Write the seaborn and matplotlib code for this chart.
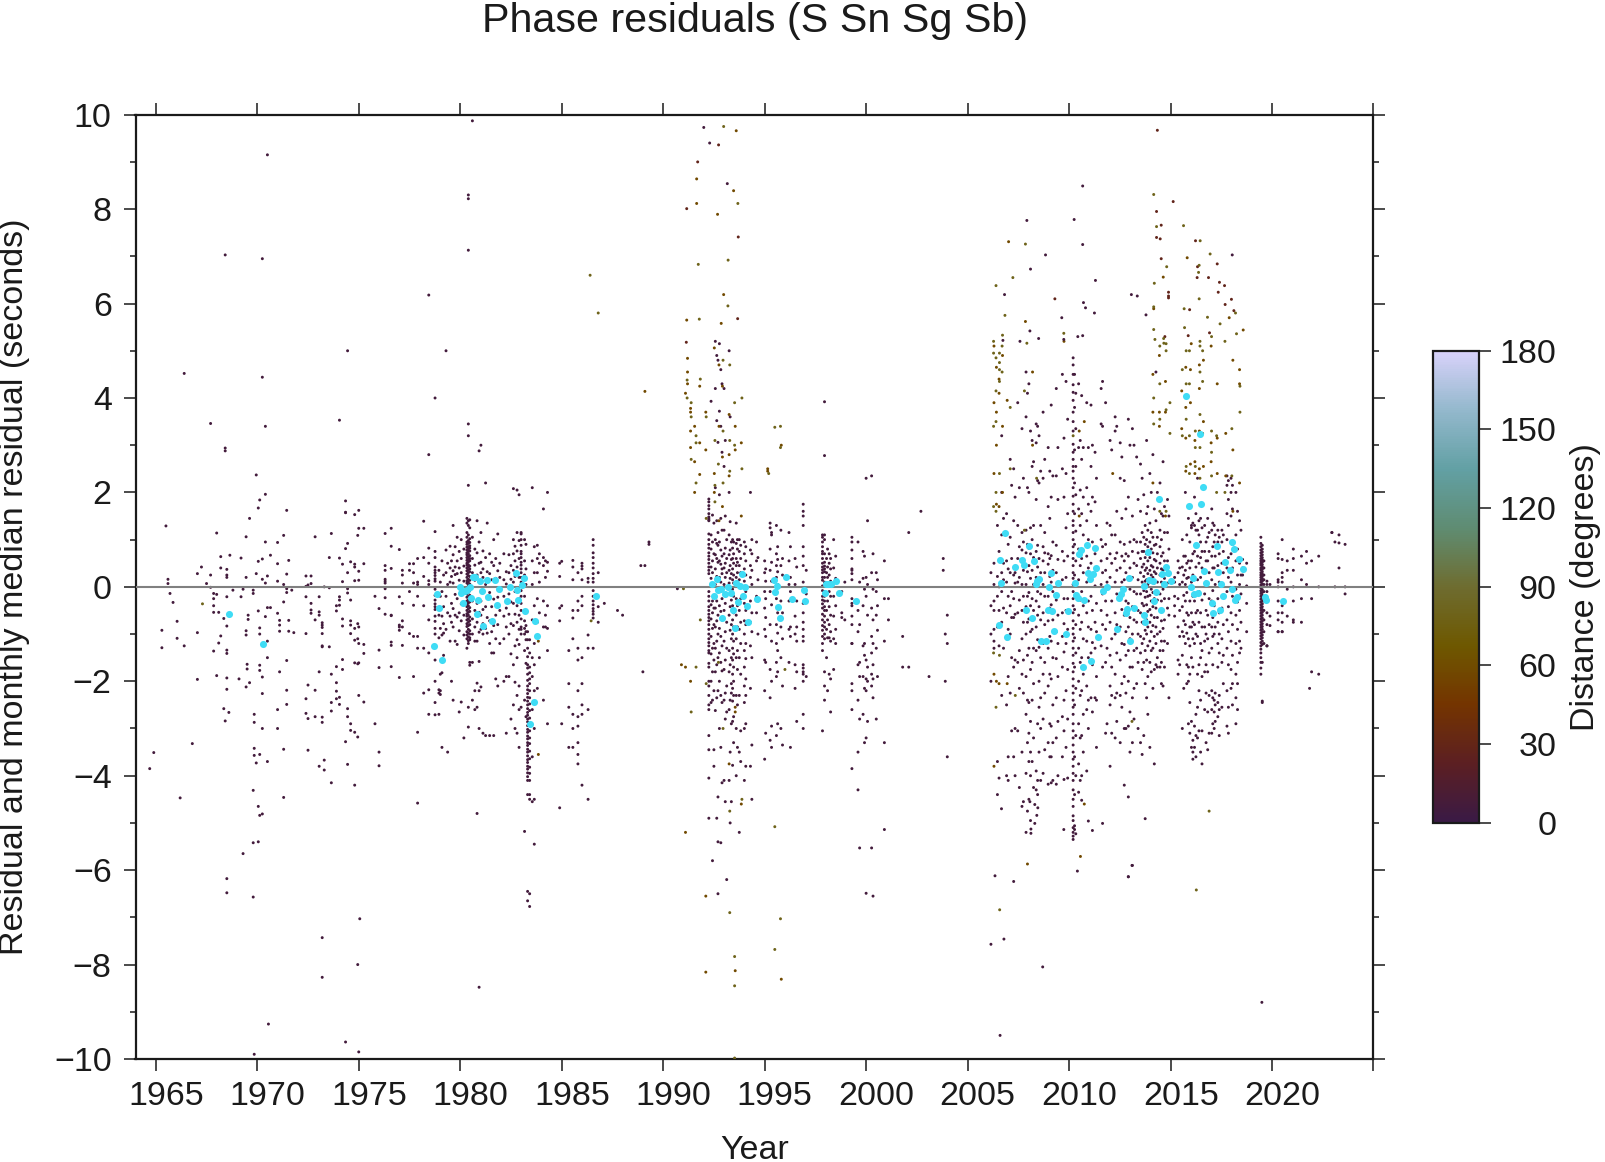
import pandas as pd
import seaborn as sns
import matplotlib.pyplot as plt
from matplotlib.colors import LinearSegmentedColormap, Normalize
from matplotlib.cm import ScalarMappable

# colours
bar_colors = ['#3a1a45', '#5c1f22', '#743400', '#6e5800', '#6e6c30', '#5f8c72', '#62a0a4', '#93b8cc', '#d8d2fa']

# residuals grouped by year: (year, [residuals])
early_rows = [
(1964.7,[-3.85]),(1964.9,[-3.51]),(1965.3,[-.92,-1.29]),(1965.5,[1.29]),(1965.6,[.16,.07]),(1965.7,[-.14]),(1965.85,[-.33]),
(1966.05,[-.73,-1.09]),(1966.2,[-4.47]),(1966.4,[4.52,-1.25]),(1966.8,[-3.32]),(1967.05,[-1.96,.28,-.97]),(1967.25,[.42]),
(1967.5,[.07]),(1967.7,[.25,3.46,-.01]),(1967.85,[-.14,-.25,-.4,-.54,-1.36]),(1968.0,[1.14,-.16,-1.88]),(1968.1,[-.54,-1.19]),
(1968.2,[-1.04,.64,.4]),(1968.35,[-.67,-2.58]),(1968.42,[2.94,-2.84,2.88,7.03]),(1968.5,[.37,.25,.2,-.21,-.83,-1.34,-1.41,-1.93,-2.17,-6.18,-6.48]),
(1968.6,[-2.66]),(1968.65,[.67]),(1968.8,[-.07]),(1969.1,[-1.95]),(1969.2,[.61,-.21]),(1969.3,[-.05,-5.65]),
(1969.45,[1.06,.2,-.93,-1.02,-2.12]),(1969.5,[-1.74,-1.64]),(1969.55,[-.6,-.69]),(1969.62,[1.45,-2.03]),(1969.8,[-.14,-.07,-4.31,-5.42,-6.57]),
(1969.85,[-9.9,-2.7,-2.87,-3.42,-3.57]),(1969.95,[2.37,.28,-3.73]),(1970.05,[1.67,.54,-.51,-4.65,-5.4]),(1970.12,[-3.55,-1.66,-1.77,1.84,-.87,-1.0,-4.84]),
(1970.25,[4.44,.59,.16,-1.91,-2.26,-3.0,-4.81,6.95]),(1970.4,[3.4,1.96,.95,.08,-.63]),(1970.5,[9.15,-3.7,-.44,.23,-1.15,-1.5]),(1970.55,[-9.26]),(1970.65,[.67,-.44]),(1971.0,[-.56,.94,-2.6,-3.0,.12,.49]),
(1971.1,[-.71,-.81,-.94,-1.8]),(1971.3,[.05,-.32,1.09,-3.44,-4.46]),(1971.45,[.27,-.04,-.12,1.62,-1.56,-2.19,-2.49]),(1971.55,[.56,-.71,-.94]),(1971.7,[-.07]),(1971.8,[-.97]),
(1972.4,[.01,-.21,.23,-.99,-2.37,-2.68]),(1972.5,[.04,-2.79,-3.46,-2.08]),(1972.65,[.07,-.35,-.56,.23,-.49]),(1972.85,[1.06,-.7,-2.19,-2.75]),
(1973.05,[-.21,-3.8,-1.8,-.6,-.53]),(1973.2,[-1.27,-.76,-2.76,-1.25,-.86,-.99,-.81,-2.87,-7.43,-8.27]),(1973.3,[-3.67,-3.88,.0]),(1973.55,[-.02,.62,-1.27]),
(1973.65,[-2.45,-2.63,-1.85,-4.15,1.13]),(1973.9,[-2.03,-2.21,-1.69,-2.37,-.4,-.51]),(1974.05,[-.21,-.28,-2.34,-2.49,3.53,.61,-.39]),(1974.2,[.48,-.68,-.83,-1.54,-1.75,.11]),
(1974.35,[1.82,1.57,-3.28,.81,1.58,-9.64]),(1974.45,[.92,-.04,-.13,-2.58,-2.75,-3.76,5.0,.3]),(1974.6,[-.72,-.81,.53,-.28,-.99,-2.9,-3.04]),(1974.8,[.48,-4.2,1.53,-3.08,-.88,-1.13,.42,.13,-1.61]),
(1974.95,[-1.63,-1.1,-3.18,1.09,-.78,-8.0]),(1975.0,[1.24,-2.3,1.62,.33,.14,-.85,-1.2,-1.61,-9.85]),(1975.25,[-2.44,1.24,.49,-1.22,-1.41]),(1975.8,[-2.9,-.2]),(1975.05,[-7.03]),
(1976.0,[-.46,-1.34,-3.5,-3.79,-1.71]),(1976.3,[-.23,-.04,.12,.16,.08,-.58,1.13,.45,.35]),(1976.6,[.86,-.6,-1.17,-1.24,1.24,-1.69,.39,-.61]),(1977.0,[.79,-.81,-.21,-.85,-.92,-1.92]),
(1977.15,[.35,.25,-1.24,-.72,.08,-.35,-.85]),(1977.5,[.49,.35,-.1,-.99]),
(1977.7,[.49,.3,-.39,-1.05,-1.9,.08]),(1977.9,[.6,.1,-.2,.05,-1.05,-1.3,-3.08,-4.58]),(1978.2,[.62,.22,-.4,-1.3,-2.25,1.39]),
(1978.45,[.13,.82,.5,.05,-.7,-1.4,-2.18,-2.7,2.8,6.18]),
(1978.76,[1.17,.75,.62,.42,.35,.3,.24,.17,.12,-.05,-.18,-.28,-.36,-.42,-.48,-.62,-.73,-.88,-1.0,-2.45,-2.71,-2.0,-1.55,4.0]),
(1978.95,[.35,-.6,-1.08,-2.18,-2.25,-2.7]),(1979.02,[.1,-.2,-.88,-1.85,-2.2,-2.28]),(1979.1,[.55,-.1,-.62,-1.02,-1.82,-3.4]),(1979.18,[.25,-.42,-.78,-1.45,-.98]),
(1979.3,[.78,.3,-.2,-.9,5.0]),(1979.38,[.5,.05,-.55,-3.5]),(1979.5,[.86,.4,.1,-.62,-1.15]),(1979.57,[.55,.22,-.35,-.75,-2.0]),(1979.65,[1.3,.68,.34,.08,-.46,-.85,-2.4]),(1979.75,[.85,.42,.26,-.16,-.6,-1.15]),
(1979.85,[1.05,.55,.28,-.25,-.64,-1.22]),(1979.95,[.75,.4,.14,-.55,-.93,-2.65]),
(1980.05,[1.0,.6,.3,-.36,-.72,-2.44]),(1980.18,[.8,.44,.12,-.6,-1.02,-3.2]),
(1980.33,[1.45,1.35,1.15,1.05,.95,.9,.84,.78,.72,.68,.62,.56,.5,.46,.4,.34,.27,.2,.13,.08,-.03,-.1,-.15,-.22,-.3,-.36,-.42,-.5,-.57,-.62,-.7,-.78,-.84,-.95,-1.02,-1.1,-1.3]),
(1980.4,[3.45,3.2,2.15,1.4,1.3,1.1,.98,.92,.85,.8,.75,.7,.64,.58,.53,.47,.42,.36,.3,.24,.16,.1,.04,-.05,-.12,-.2,-.28,-.34,-.4,-.47,-.54,-.6,-.68,-.75,-.82,-.9,-.98,-1.06,-1.14,-1.2,8.3,8.22,7.13,-2.55,-2.97]),
(1980.47,[1.42,1.25,1.02,.94,.87,.82,.76,.66,.6,.55,.44,.38,.32,.22,.14,.06,-.08,-.18,-.26,-.32,-.44,-.52,-.64,-.72,-.8,-.93,-1.0,-1.08,-1.12,-1.6,-1.66]),
(1980.6,[1.05,.6,.3,-.3,-.68,-1.0,-1.6,-2.4,9.87]),(1980.72,[.8,.46,.14,-.5,-.85,-1.15,-2.2,-2.6]),
(1980.83,[1.4,.72,.25,-.35,-.75,-1.15,-2.04,-2.55,-4.8]),(1980.93,[.95,.5,.1,-.54,-.96,-1.58,-2.2,-3.0,2.88,-8.48]),(1981.02,[1.15,.52,.3,-.3,-.6,-.9,-2.12,3.0]),(1981.12,[.76,.38,.2,-.48,-.78,-1.0,-3.1]),
(1981.25,[2.2,.62,.05,-.42,-.88,-3.15]),(1981.33,[1.35,.32,-.2,-.65,-.98]),(1981.45,[.7,.28,-.12,-.72,-1.2,-3.15]),(1981.55,[.52,.15,-.42,-.95,-1.4]),(1981.65,[1.0,.45,-.26,-.82,-1.4,-3.15]),(1981.75,[.6,.18,-.6,-1.1,-1.95]),
(1981.85,[1.12,.34,-.22,-.8,-2.1]),(1981.95,[.5,.2,-.5,-1.2]),(1982.15,[.7,.15,-.2,-.62,-1.1,-2.0]),(1982.27,[.32,.06,-.45,-.85,-1.9,-3.1]),(1982.4,[.68,.3,-.15,-.58,-1.0,-1.9]),(1982.5,[.45,.16,-.32,-.78,-1.42,-2.8]),
(1982.62,[1.0,.7,.35,.1,-.35,-.82,-1.65,-2.5,2.08]),(1982.7,[.86,.55,.22,-.1,-.58,-1.25,-2.02,-3.0]),(1982.8,[1.15,.76,.42,-.05,-.4,-.75,-1.12,-1.5,-2.3,-3.1,2.05]),(1982.9,[.98,.6,.2,-.25,-.6,-.9,-1.22,-2.1,-2.6,-3.4,1.95]),
(1983.0,[1.15,1.12,1.0,.88,.75,.7,.62,.52,.46,.38,.3,.2,.1,-.08,-.2,-.35,-.5,-.68,-.85,-.9,-1.0,-2.55]),(1983.17,[1.0,.55,.25,-.2,-.72,-.88,-1.0,-1.35,-2.4,-5.18]),(1983.24,[.9,.38,.05,-.5,-.82,-.95,-1.12,-1.62,-2.75]),
(1983.32,[-.95,-1.12,-1.3,-1.48,-1.65,-1.72,-1.85,-1.98,-2.1,-2.18,-2.26,-2.34,-2.42,-2.5,-2.58,-2.66,-2.72,-2.8,-2.86,-2.94,-3.02,-3.08,-3.16,-3.22,-3.3,-3.36,-3.44,-3.5,-3.58,-3.66,-3.72,-3.8,-3.86,-3.94,-4.02,-4.1,-4.4,-6.45,-6.65]),
(1983.42,[-1.12,-1.4,-1.7,-1.82,-1.95,-2.05,-2.2,-2.35,-2.48,-2.62,-2.78,-2.92,-3.05,-3.2,-3.32,-3.48,-3.64,-3.82,-3.95,-4.1,-4.4,-4.5,-6.5,-6.77]),
(1983.55,[2.1,.55,.05,-.7,-1.5,-1.9,-2.6,-3.6,-4.55]),(1983.65,[.85,.3,-.4,-1.2,-1.65,-2.2,-3.0,-4.5,-5.45]),(1983.8,[.88,.6,.3,-.25,-.75,-2.15]),(1983.9,[.7,.5,.1,-.55,-1.5]),(1984.1,[1.65,.62,.45,-.3,-.85,-2.4]),(1984.2,[.55,.2,-.6,-.85]),
(1984.3,[2.0,.52,.33,-.4,-.88,-1.35,-2.9]),(1984.9,[.5,.22,-.45,-.72,-4.68]),(1985.0,[.54,-2.9,-.4]),(1985.35,[-2.55,-2.05,-1.35,-3.4]),(1985.55,[.56,.42,.15,-.5,-.66,-1.1,-2.7,-3.0,-3.4]),
(1985.8,[.3,-.3,-.5,-1.3,-1.55,-2.2,-2.75,-2.95,-3.3,-3.55,-3.75]),(1986.0,[.5,.44,.15,.38,-.2,-.4,-4.2,-1.5,-2.05,-2.5,-2.7]),(1986.3,[.18,.1,-2.6,-4.5,-1.3,-1.02]),
(1986.55,[1.0,.88,.72,.62,.5,.4,.28,.18,.1,-.08,-.2,-.3,-.38,-.46,-.52,-.58,-.66,-1.3]),(1986.8,[.3,-.42,-.75]),(1987.1,[-.35]),(1987.75,[-.5]),(1988.0,[-.6]),(1988.9,[.45]),(1989.3,[.9,.95]),(1989.0,[-1.8]),
]

nineties_rows = [
(1989.1,[.45]),(1990.7,[-.04]),
(1992.25,[1.86,1.8,1.72,1.65,1.55,1.48,1.4,1.42,1.45,1.12,1.0,.9,.82,.72,.65,.58,.5,.42,.35,.28,-.1,-.2,-.3,-.42,-.5,-.58,-.65,-.72,-.8,-.9,-1.0,-1.1,-1.18,-1.25,-1.35,-1.4,-1.62,-1.7,-2.0,-2.1,-2.3,-2.5,-2.6,-3.15,-3.45,-4.05,-4.9]),
(1992.36,[3.93,1.1,.8,.42,.18,-.38,-.68,-1.05,-1.42,-2.0,-2.45]),(1992.43,[1.52,.95,.55,.3,-.3,-.55,-.88,-1.3,-1.8,-2.4,-5.8]),(1992.5,[1.35,.7,-.45,-.8,-1.2,-1.55,-2.2,-3.45,-3.8]),
(1992.57,[5.2,4.2,2.1,1.0,.68,.38,.05,-.45,-.85,-1.3,-1.8,-2.62]),(1992.64,[4.9,3.52,1.4,.92,.6,.22,-.3,-.72,-1.15,-1.65,-2.35,-4.9]),(1992.7,[4.8,3.06,1.15,.88,.52,.15,-.6,-1.0,-1.5,-2.2,-4.45,-5.4,-6.5]),
(1992.77,[5.15,3.72,1.95,.95,.55,.2,-.4,-.88,-1.4,-2.0,-3.0]),(1992.84,[4.6,3.4,1.45,.78,.48,.1,-.52,-1.05,-1.6,-2.3,-3.4,-5.42]),(1992.9,[4.3,2.85,1.2,.65,.38,.28,-.25,-.7,-1.25,-1.78,-2.45,-4.15]),
(1993.0,[4.2,2.55,1.2,.7,.4,.05,-.5,-1.15,-1.75,-2.4,-4.1]),(1993.06,[3.1,1.5,.82,.5,.2,-.35,-.95,-1.55,-2.25,-2.8,-4.55]),(1993.13,[1.0,.6,.3,-.75,-1.3,-2.1,-2.65,-6.2]),
(1993.25,[5.0,2.0,1.1,.68,.35,.08,-.6,-1.35,-1.8,-2.6,-4.1]),(1993.3,[3.6,1.38,.78,.45,.18,-.42,-.92,-1.65,-2.4,-3.5,-5.0]),(1993.36,[.95,.58,.28,-.28,-.8,-1.1,-1.5,-2.05,-2.25,-2.9,-4.55]),
(1993.42,[1.0,.82,.6,.38,.15,-.05,-.4,-.7,-1.0,-1.3,-1.55,-1.85,-2.15,-2.42,-2.85,-3.78]),(1993.47,[.95,.7,.5,.25,.08,-.2,-.55,-.85,-1.15,-1.42,-1.7,-2.0,-2.3,-2.75,-3.3]),
(1993.6,[1.35,.92,.6,.45,.2,-.25,-.6,-1.1,-1.5,-2.3,-3.0,-4.0]),(1993.66,[1.0,.8,.52,.3,.1,-.4,-.85,-1.35,-1.75,-2.5,-3.4]),
(1993.75,[1.0,.75,.45,.15,-.5,-.9,-1.5,-2.3,-3.5,-5.2]),(1993.82,[.88,.6,.3,-.25,-.75,-1.2,-1.85,-3.05,-3.7]),
(1994.0,[.95,.7,.38,.12,-.35,-.72,-1.0,-1.35,-1.7,-2.1,-2.45,-3.0,-4.1]),(1994.07,[.85,.55,.25,-.1,-.5,-.8,-1.2,-1.52,-1.95,-2.3,-2.9,-3.8]),
(1994.3,[2.0,.78,.45,.2,-.3,-.75,-1.25,-2.15,-3.8]),(1994.37,[1.0,.7,.35,.05,-.55,-.95,-1.5,-3.35,-4.5]),(1994.6,[.95,.55,-.2,-.55]),(1994.67,[.62,.15,-.3,-1.0]),
(1995.0,[.55,.3,-.1,-.45,-.9,-1.55,-2.2,-3.65]),(1995.05,[.38,.12,-.25,-.65,-1.05,-1.6,-3.1]),(1995.27,[1.35,1.25,.8,.35,-.1,-.8,-1.75,-2.35,-3.25]),(1995.34,[1.1,1.15,.52,.12,-.38,-1.15,-2.0,-2.95,-3.4]),
(1995.58,[1.3,.7,.45,.2,-.25,-.8,-1.2,-1.6,-1.9,-3.15]),(1995.64,[.85,.58,.32,.05,-.55,-.98,-1.35,-1.8,-2.9]),(1995.8,[1.2,.45,-.3,-.85,-1.5,-3.0]),(1995.88,[.6,.25,-.55,-1.1,-2.1,-3.35]),
(1996.2,[1.15,.55,.05,-.3,-.9,-1.6]),(1996.27,[.85,.2,-.1,-.85,-1.05,-3.4]),(1996.5,[.6,.05,-.62,-1.0,-1.65,-2.15]),(1996.58,[.42,-.3,-.85,-1.15,-1.8,-2.85]),
(1996.9,[1.75,1.6,1.5,1.3,.85,.65,.45,.1,-.35,-.55,-.75,-.9,-1.05,-1.15,-1.65,-1.72,-1.8,-1.85,-2.0,-2.7,-3.0]),(1997.05,[.35,-.15,-1.9]),
(1997.85,[1.1,1.05,.95,.85,.75,.7,.6,.5,.42,.36,.3,.2,.14,.02,-.08,-.2,-.28,-.36,-.45,-.58,-.7,-.82,-.92,-1.05,-1.2,-1.35,-3.05]),
(1997.95,[3.92,2.78,1.1,1.0,.7,.52,.44,.38,.32,.2,.1,-.1,-.2,-.3,-.42,-.5,-.62,-.75,-.85,-1.0,-1.1,-1.8,-2.1,-2.4]),(1998.1,[.8,.42,.2,-.3,-.7,-1.08,-2.2]),(1998.05,[.6,.3,-.12,-.5,-.9,-1.5]),
(1998.18,[.7,.5,.25,-.1,-.42,-.8,-1.08,-1.85]),(1998.25,[.6,.38,.12,-.2,-.6,-.95,-1.15,-1.95,-2.65]),(1998.4,[1.0,.4,-.2,-.62,-1.1,-1.75]),(1998.5,[.65,.18,-.4,-.9,-1.2]),(1998.8,[-.55,-.65,-.1]),(1998.95,[.1,-.7]),
(1999.3,[1.05,.95,.78,.6,.38,.35,.28,.15,-.25,-.35,-.4,-.62,-.8,-1.2,-1.2,-2.05,-2.2,-2.6,-3.85]),(1999.6,[.95,-.5,-.95,-1.65,-2.4,-3.5,-4.3]),(1999.68,[.1,-.8,-1.6,-1.9,-2.8,-5.53]),
(1999.85,[.75,.18,-.4,-1.25,-1.9,-2.7]),(1999.92,[.65,-.05,-1.2,-1.45,-2.15,-3.3]),(2000.0,[2.3,.2,-.2,-1.55,-1.95,-2.2,-3.2,-6.49]),(2000.07,[1.4,.05,-.6,-1.7,-2.0,-2.85]),(2000.27,[2.35,.3,-.45,-1.05,-1.4,-1.85,-2.1,-5.53]),(2000.34,[.7,-.05,-.7,-1.2,-1.65,-1.95,-2.35,-6.55]),
(2000.5,[.3,-.1,-.6,-1.3,-2.8]),(2000.56,[.15,-.4,-.92,-1.9]),(2000.9,[.55,-.25,-1.15,-3.3,-5.14]),(2001.1,[-.25,-.7]),(2001.8,[-1.05,-1.7]),(2002.1,[1.15,-1.7]),(2002.7,[1.6]),(2003.1,[-1.9]),(2003.8,[.35,.6]),(2003.9,[-1.0,-2.0]),(2004.0,[-1.2,-3.6,-.6]),
]

late_a_rows = [
(2006.15,[.3,-1.0,-2.0,-.4]),(2006.3,[.05,-.5,-.9,-1.3,.5,-.3,-1.15]),(2006.47,[1.3,.22,-.2,-.85,-3.7,-4.4]),(2006.55,[.75,.0,-.5,-1.25,-4.05]),
(2006.68,[2.0,1.1,.3,-.1,-.75,-2.3,3.2]),(2006.77,[1.45,.5,.15,-.45,-1.3]),(2006.92,[1.55,.55,.1,-.55,-1.1,-2.5,-4.0]),(2007.0,[.9,.38,-.2,-.9,-1.9,-3.6,-4.1]),(2007.1,[2.7,1.05,.3,-.4,-1.0,-2.25]),(2007.17,[2.15,.6,-.1,-.65,-1.5,-3.05]),
(2007.27,[2.5,1.4,.25,-.25,-.65,-1.7,-3.6]),(2007.34,[1.9,.3,.08,-.58,-1.55,-3.0,-4.0]),(2007.47,[3.9,1.3,.6,.1,-.55,-1.6,-3.05]),(2007.55,[2.1,.85,.2,-.28,-1.35,-2.15,-4.25]),(2007.68,[3.35,1.15,.78,.05,-.5,-1.1,-1.85,-3.5,-4.65]),(2007.75,[2.3,.95,.35,-.2,-.75,-1.55,-2.25,-4.55]),
(2007.88,[4.55,3.6,1.2,.72,.05,-.42,-1.0,-1.9,-2.7,-3.95,-5.2]),(2007.95,[4.1,2.1,.9,.32,-.2,-.75,-1.45,-2.4,-3.3,-4.75]),(2008.02,[4.3,2.0,.82,.45,-.12,-.68,-1.3,-2.45,-3.1,-3.7,-4.5]),(2008.1,[3.3,1.25,.7,.18,-.4,-.95,-1.75,-2.85,-3.5,-4.0,-4.95]),
(2008.18,[3.1,2.55,1.0,.35,-.25,-.9,-1.6,-2.4,-3.7]),(2008.25,[2.65,1.3,.62,.05,-.5,-1.3,-2.05,-3.2,-4.25]),(2008.38,[3.45,3.05,1.85,.75,.2,-.3,-.85,-1.35,-3.9,-4.3]),(2008.45,[3.4,2.25,.88,.42,-.1,-.6,-1.12,-2.9,-4.1,-4.4]),
(2008.52,[3.2,2.2,.6,.1,-.42,-1.28,-2.0,-2.55,-3.5]),(2008.6,[2.45,1.3,.3,-.15,-.7,-1.5,-2.35,-3.0,-4.1]),(2008.72,[3.7,2.3,.85,.55,.05,-.55,-1.2,-1.85,-2.8,-3.95]),(2008.8,[2.7,1.15,.72,.3,-.2,-.8,-1.6,-2.25,-3.45]),
(2008.97,[2.95,1.7,.7,.48,-.2,-.72,-1.3,-2.1,-3.3,-4.18]),(2009.05,[2.45,1.45,.6,.22,-.45,-1.05,-1.85,-2.9,-3.6]),(2009.12,[3.85,1.9,.66,.1,-.38,-1.15,-1.95,-2.95,-3.6,-4.15]),(2009.2,[2.35,.95,.35,-.1,-.7,-1.5,-2.5,-3.3,-4.1]),
(2009.37,[4.2,2.35,.88,.3,-.28,-.95,-1.52,-2.35,-3.2,-4.18]),(2009.45,[2.95,1.85,.58,.02,-.6,-1.2,-1.9,-2.85,-4.0]),(2009.67,[4.5,2.5,.75,.15,-.55,-1.05,-1.7,-2.75,-3.6]),(2009.75,[3.15,1.9,.55,-.25,-.78,-1.38,-2.4,-3.05,-4.08]),
(2009.85,[4.35,2.4,1.25,.2,-.5,-1.2,-2.2,-3.4]),(2009.93,[3.55,1.55,.65,-.25,-.9,-1.75,-2.8,-4.05]),
(2010.2,[4.85,4.7,4.5,4.28,4.12,3.95,3.7,3.5,3.3,3.02,2.85,2.7,2.55,2.45,2.3,2.1,1.92,1.75,1.6,1.4,1.3,1.15,1.0,.85,.72,.6,.45,.3,.18,.05,-.1,-.25,-.4,-.55,-.72,-.88,-1.0,-1.15,-1.3,-1.45,-1.62,-1.8,-1.95,-2.1,-2.25,-2.4,-2.55,-2.7,-2.9,-3.05,-3.2,-3.35,-3.5,-3.65,-3.8,-3.95,-4.1,-4.3,-4.5,-4.65,-4.85,-4.95,-5.1,-5.2,-5.28,-5.35]),
(2010.27,[4.5,3.8,2.9,2.2,1.55,.9,.25,-.48,-1.08,-1.7,-2.5,-3.6,-4.4,-5.06,-5.14]),(2010.33,[4.1,3.35,2.55,1.95,1.18,.55,-.15,-.8,-1.4,-2.15,-3.15,-4.0,-5.23]),
(2010.47,[4.3,2.95,1.65,.8,.15,-.6,-1.3,-2.0,-2.9,-3.75,-4.35]),(2010.55,[3.1,2.05,1.3,.45,-.28,-.9,-1.6,-2.3,-3.2,-4.1]),(2010.62,[4.05,2.7,1.55,.6,-.1,-.75,-1.5,-2.2,-3.15,-4.0,-4.52]),(2010.7,[2.95,1.9,1.1,.3,-.4,-1.1,-1.85,-2.7,-3.5]),
(2010.87,[3.9,2.1,1.4,.65,.1,-.55,-1.15,-2.1,-2.6,-3.9]),(2010.95,[2.95,1.75,1.0,.4,-.3,-.85,-1.5,-2.4,-3.0,-4.96]),(2011.08,[3.85,2.55,1.6,.5,-.2,-.9,-1.4,-2.35]),(2011.15,[3.0,1.9,.95,.25,-.5,-1.18,-1.65,-2.65,-5.16]),
(2011.28,[2.85,1.8,.7,.02,-.75,-1.3,-2.35]),(2011.35,[2.3,1.3,.35,-.35,-.95,-1.9,-2.4,-3.4]),(2011.58,[4.2,3.45,1.0,.55,.05,-.5,-1.25]),(2011.65,[4.35,3.4,.85,.3,-.15,-.8,-1.7,-5.01]),(2011.8,[3.9,.9,.35,-.3,-.9,-1.6,-3.1]),(2011.87,[1.35,.6,.1,-.6,-1.3,-2.9]),
(2012.02,[3.1,1.3,.7,.2,-.75,-1.45,-2.1,-2.5,-3.8]),(2012.1,[2.9,1.1,.5,-.3,-1.1,-1.7,-2.3,-3.1]),(2012.27,[3.6,3.3,1.1,.6,.1,-.55,-1.0,-1.85,-2.35,-3.2]),(2012.35,[3.4,1.6,.72,.35,-.15,-.8,-1.4,-2.25,-2.85]),
(2012.52,[3.05,2.3,.95,.4,-.2,-.85,-1.55,-2.3,-3.3]),(2012.6,[2.75,1.45,.65,.1,-.48,-1.2,-2.05,-2.55]),(2012.72,[2.25,.9,.55,.15,-.6,-1.22,-1.9,-3.0,-4.2]),(2012.8,[1.65,.7,.3,-.3,-.95,-1.45,-2.25,-3.0]),
(2012.92,[3.55,1.9,.65,.15,-.35,-.85,-1.35,-2.0,-2.95,-4.45,-6.14]),(2013.0,[3.0,.95,.4,-.05,-.65,-1.1,-1.7,-2.65,-3.5]),(2013.12,[3.35,1.5,.75,.2,-.42,-1.0,-1.7,-2.35,-3.3,-5.9]),(2013.2,[3.0,1.0,.5,-.1,-.7,-1.35,-2.15,-2.8]),(2013.33,[2.75,.95,.45,-.15,-.75,-1.3,-2.05]),(2013.4,[1.85,.72,.15,-.5,-1.0,-1.6,-3.0]),
]

late_b_rows = [
(2013.52,[2.6,1.6,.95,.6,.3,-.15,-.55,-1.05,-1.4,-3.3]),(2013.6,[2.3,1.15,.75,.42,.1,-.35,-.75,-1.2,-1.75,-3.55]),(2013.68,[1.95,1.05,.75,.48,.22,-.08,-.4,-.78,-1.1,-1.6,-3.15]),(2013.75,[1.3,.9,.62,.35,.12,-.22,-.62,-.92,-1.35,-2.05,-4.91]),
(2013.82,[3.1,1.55,1.0,.7,.4,.15,-.1,-.38,-.7,-1.0,-1.55,-2.35]),(2013.88,[1.7,1.2,.85,.55,.28,.05,-.2,-.52,-.85,-1.25,-1.9,-2.7]),(2013.98,[2.4,1.35,.95,.62,.35,.1,-.18,-.48,-.75,-1.15,-1.6,-3.4]),(2014.05,[2.0,1.15,.8,.45,.25,-.05,-.3,-.6,-.95,-1.35,-1.8]),
(2014.13,[2.8,1.05,.72,.42,.2,-.12,-.42,-.82,-1.3,-2.15]),(2014.2,[1.65,.88,.58,.32,.08,-.25,-.65,-1.05,-1.75,-3.75]),(2014.28,[4.55,1.4,.9,.55,.28,-.1,-.45,-.85,-1.2,-1.65]),(2014.35,[2.0,1.05,.7,.4,.1,-.28,-.65,-1.0,-1.5,-1.7]),
(2014.48,[2.2,1.2,.85,.5,.25,-.15,-.5,-.95,-1.35,-1.7]),(2014.55,[1.55,1.0,.65,.38,.1,-.3,-.72,-1.15,-1.6,-2.05]),(2014.63,[2.65,1.5,.72,.35,-.05,-.5,-.88,-1.35,-2.1]),(2014.7,[1.7,1.15,.55,.18,-.25,-.7,-1.15,-1.7]),(2014.85,[1.85,1.15,.55,.08,-.45,-1.2]),(2014.92,[1.5,.8,.25,-.25,-.6,-2.35]),
(2015.2,[.2,.1,-.2,-.4,-.62]),(2015.37,[.55,.3,-.25,-.85,-1.55,-1.85]),(2015.45,[.4,.05,-.5,-1.05,-1.65]),(2015.58,[1.0,.42,.1,-.42,-.95,-1.45,-3.0]),(2015.65,[.65,.25,-.18,-.72,-1.05,-2.15]),(2015.73,[2.0,.65,.35,.05,-.3,-.8,-1.2]),(2015.8,[1.1,.5,.18,-.12,-.55,-.98,-1.65,-2.05]),
(2015.88,[1.45,.55,.2,-.6,-1.1,-1.7,-2.0,-2.9]),(2015.95,[.95,.4,-.3,-.85,-1.25,-1.85,-2.45,-3.1]),(2016.03,[1.3,1.25,.55,.1,-.55,-.85,-1.5,-2.85,-3.4]),(2016.1,[1.35,.7,.25,-.2,-.75,-1.1,-1.7,-3.25,-3.5,-3.65]),
(2016.18,[1.9,1.3,.75,.2,-.3,-.8,-1.2,-2.95,-3.4]),(2016.25,[1.55,1.2,.42,-.15,-.55,-1.0,-2.7,-3.15,-3.6]),(2016.33,[2.3,1.2,.65,.15,-.5,-1.05,-1.85,-2.55,-3.2]),(2016.4,[1.4,1.1,.5,-.1,-.75,-1.65,-2.2,-3.05]),
(2016.48,[1.45,.95,.62,.2,-.55,-1.2,-1.5,-2.4,-3.5]),(2016.55,[1.25,.75,.4,-.28,-.85,-1.35,-1.9,-3.05,-3.75]),(2016.68,[1.3,.75,.35,-.15,-.85,-1.15,-1.8,-2.6]),(2016.75,[.95,.55,.1,-.5,-1.0,-1.65,-2.25,-3.3]),
(2016.83,[1.45,1.05,.55,.08,-.6,-1.1,-1.8,-2.65,-3.45]),(2016.9,[1.15,.75,.3,-.25,-.8,-1.4,-2.3,-3.1]),(2017.03,[1.65,1.2,.65,.15,-.3,-.85,-1.3,-2.2,-2.6,-3.1]),(2017.08,[1.35,.85,.4,-.08,-.65,-1.05,-1.65,-2.35,-2.9]),
(2017.15,[1.3,.95,.4,-.4,-1.0,-2.4,-2.65,-3.0]),(2017.2,[1.1,.65,.05,-.85,-2.25,-2.5,-2.85]),(2017.33,[1.2,.95,.45,-.25,-.75,-1.2,-1.7,-2.45,-2.75]),(2017.4,[1.05,.7,.1,-.55,-1.0,-1.4,-2.3,-2.6,-3.15]),
(2017.53,[1.2,.95,.5,.05,-.45,-1.1,-1.6,-2.55]),(2017.6,[1.1,.75,.3,-.2,-.8,-1.45,-2.05]),(2017.78,[2.35,2.15,1.55,1.0,.4,-.1,-.7,-1.3,-2.2,-2.95]),(2017.85,[2.25,1.85,1.3,.62,.2,-.42,-.95,-1.65,-2.55,-3.1]),
(2017.98,[2.3,2.0,1.5,.7,.1,-.55,-1.15,-1.75,-2.15]),(2018.05,[2.15,1.65,.9,.4,-.2,-.8,-1.45,-2.05,-2.5]),(2018.22,[2.0,1.1,.55,-.05,-.6,-1.2,-1.85,-2.35,-2.9]),(2018.3,[1.6,.8,.25,-.32,-.9,-1.6,-2.05,-2.6]),
(2018.4,[1.4,.5,.05,-.5,-1.15,-1.4]),(2018.47,[1.2,.25,-.15,-.75,-1.3]),(2018.55,[.58,.4,.25]),(2018.75,[.5,.02,-.35,-.95]),
(2019.45,[1.05,.92,.85,.78,.72,.66,.6,.55,.5,.46,.4,.36,.3,.25,.2,.15,.1,.04,-.02,-.08,-.14,-.2,-.26,-.32,-.38,-.44,-.5,-.56,-.62,-.68,-.74,-.8,-.86,-.92,-.98,-1.04,-1.1,-1.18,-1.25,-1.32,-1.4,-1.5,-1.6,-1.72,-1.85]),
(2019.52,[.88,.8,.74,.68,.62,.57,.52,.47,.42,.37,.32,.27,.22,.17,.12,.06,0,-.06,-.12,-.18,-.24,-.3,-.36,-.42,-.48,-.54,-.6,-.66,-.72,-.78,-.84,-.9,-.96,-1.02,-1.08,-1.15,-1.22,-2.42,-2.45,-1.6]),
(2019.6,[.55,.4,.25,.15,.05,-.1,-.3,-.5,-.7,-.95,-1.2]),(2019.75,[.12,.05,-.1,-.3,-.55,-.8,-1.25,-1.25]),(2019.9,[.05,-.62,-.82]),
(2020.3,[.7,.6,.15,.1,.0,-.3,-.55,-.7,-.95,-.95]),(2020.5,[1.0,.58,.3,.2,.1,-.4,-.55,-.75,-.95,-.95]),(2020.75,[.55,.35,-.05,-.62]),(2021.05,[.8,.6,.35,.0,-.3,-.7,-.75]),(2021.45,[.65,.15,-.25,-.75]),(2021.7,[.5,.75,.05]),(2021.95,[-1.8,-.25,.55]),(2022.3,[.65,.0,-1.85]),(2022.95,[1.15,1.15]),(2023.1,[.95,.0]),(2023.3,[1.1,.93,.4]),(2023.6,[.9,.0,-.15]),(2021.85,[-2.15]),(2019.5,[-8.8]),
]

# outlying points read one at a time
top_dark = [(1992.0,9.73),(1992.29,9.4),(1993.16,8.54),(2010.67,8.49),(2007.92,7.76),(2010.25,7.78),(2010.67,7.25),(2018.04,7.03),(2008.84,7.03),(2008.1,6.73),(2011.3,6.49),(2006.82,6.19),(2013.07,6.19),(2013.36,6.16),(2010.71,6.02),(2010.81,5.91),(2011.25,5.8),(2013.79,5.76),(2009.64,5.7),(2008.07,5.42),(2010.43,5.3),(2010.67,5.32),(2008.5,5.26),(2009.74,5.24),(2007.58,5.2),(2006.74,5.22),
             (2006.67,-4.7),(2008.07,-4.55),(2008.31,-4.61),(2008.46,-4.68),(2008.41,-4.84),(2008.31,-5.01),(2008.12,-5.13),(2008.12,-5.22),(2009.74,-5.14),(2013.1,-5.9),(2012.92,-6.14),(2010.41,-6.02),(2006.35,-6.12),(2007.27,-6.24),(2006.15,-7.57),(2006.79,-7.46),(2006.6,-9.5),(2008.7,-8.05)]
top_red = [(2014.35,9.67),(2015.13,8.16),(2014.31,7.95),(2014.54,7.66),(2014.31,7.4),(2014.49,7.37),(2016.23,7.33),(2014.54,6.95),(2017.3,6.84),(2016.33,6.78),(2016.31,6.55),(2016.87,6.55),(2017.41,6.45),(2017.66,6.38),(2014.9,6.24),(2014.9,6.16),(2014.9,6.12),(2017.35,6.24),(2009.3,6.1),(2018.0,6.09),(2017.69,5.98),(2015.94,5.87),(2018.12,5.85),(2016.92,5.38),(2014.72,5.3),(2015.87,5.32),
           (1992.73,9.36),(1991.7,9.0),(1991.16,8.01),(1993.7,7.41),(1993.67,5.68),(1991.14,5.18)]
top_brown = [(2007.02,7.31),(2015.82,6.97),(2014.64,6.56),(2014.17,5.89),(2017.89,5.7),(2007.85,5.62),(2018.58,5.44),(2016.02,5.15),(2010.56,-5.71),(2007.95,-5.87),
             (1993.6,9.66),(1991.65,8.64),(1993.47,8.39),(1991.65,8.12),(1992.68,7.89),(1992.98,6.19),(1991.16,5.65),(1992.86,5.58)]
top_olive = [(2014.17,8.31),(2014.31,7.63),(2015.64,7.65),(2007.85,7.26),(2016.46,7.33),(2016.95,7.05),(2016.41,6.81),(2014.81,6.78),(2016.38,6.66),(2007.23,6.55),(2006.4,6.38),(2014.2,6.43),(2016.41,6.1),(2014.17,5.93),(2015.67,5.89),(2018.2,5.8),(2006.84,5.75),(2016.82,5.71),(2017.44,5.57),(2015.69,5.49),(2018.25,5.36),(2006.72,5.33),(2009.74,5.37),(2007.92,5.16),(2014.66,5.26),(2014.23,5.24),(2014.67,5.16),
             (1992.98,9.75),(1993.68,8.12),(1993.2,6.92),(1991.73,6.83),(1993.19,5.95),(1991.78,5.67),(2016.9,-4.75),(2016.27,-6.42),(2006.58,-6.84),(1986.4,6.6),(1986.8,5.8)]

brown_rows = [
(1983.85,[-1.15,-3.55]),(1989.1,[4.14]),(1990.9,[-1.65]),(1991.1,[4.1,-1.7,-5.2]),(1991.2,[4.84,4.55,4.3]),(1991.35,[3.78,3.7,3.3,2.95,-2.0]),(1991.55,[3.4,2.65,2.0]),(1991.8,[4.25,3.05,2.38]),
(1992.1,[-6.55,-8.16,3.7,2.9]),(1992.52,[5.06,2.4,2.0]),(1992.75,[4.7,3.4,1.4]),(1992.92,[4.25,2.75,1.7]),(1993.25,[3.65,2.8,2.35,-3.75]),(1993.55,[3.4,2.9,-2.55,-2.65,-8.13]),(1993.85,[3.05,1.5,-4.6]),
(1995.15,[2.45,2.5]),(1995.82,[3.0,-8.31]),(2006.3,[5.1,3.9,2.4,-1.85,-3.8]),(2006.42,[4.65,3.7,3.0,1.75,-2.0]),(2006.55,[4.4,4.1,1.7,-2.05]),(2006.72,[4.9,3.4,2.0]),(2006.95,[3.95,-2.05]),
(2008.2,[4.55,3.0]),(2009.75,[5.2]),(2010.5,[3.3,1.5]),(2010.75,[3.5,-4.6]),(2012.15,[2.4]),(2014.13,[4.5,3.7,2.2]),(2014.45,[4.9,3.7,3.4]),(2014.75,[4.35,3.7,1.5]),(2015.55,[4.15,3.35]),(2015.75,[4.65,3.8,3.15,2.45]),
(2015.98,[4.6,3.9,2.6]),(2016.2,[3.1,2.65,2.4]),(2016.42,[4.7,4.2,3.3,2.5]),(2016.62,[4.8,3.5,2.55]),(2017.0,[5.1,3.05,2.65]),(2017.3,[4.3,3.15,2.4]),(2017.72,[3.25,2.35]),(2018.07,[4.8,2.9,1.6]),(2018.4,[4.6,4.3,2.2]),
]
olive_rows = [
(1967.3,[-.36]),(1986.45,[-.72]),(1991.0,[-.04]),(1991.18,[4.0,4.38]),(1991.38,[3.9,3.6,2.7,-2.65]),(1991.62,[3.2,2.2,3.05,-1.7]),(1991.83,[4.4,-.7]),(1992.12,[3.6,1.45,-2.05]),(1992.55,[3.1,2.15,1.8]),(1992.72,[2.6,-1.6]),
(1992.95,[4.8,3.3,2.2,-3.0]),(1993.28,[4.7,3.1,2.45,-4.75,-6.9]),(1993.52,[3.9,3.0,-7.83,-8.45,-9.98]),(1993.88,[4.0,2.5,-4.5]),(1995.5,[3.38,-5.08,-7.68]),(1995.2,[2.4]),(1995.78,[3.4,2.95,-7.03]),(1996.0,[-1.75]),
(2006.28,[5.2,4.95,3.4,1.7,-1.4]),(2006.4,[4.85,4.15,3.5,2.0,1.6,-2.55]),(2006.57,[4.75,4.95,4.6,4.35,2.4,-1.45]),(2006.7,[5.1,4.55]),(2007.1,[3.8,2.5]),(2007.35,[-2.3]),(2007.8,[4.15,1.2]),(2008.4,[2.3]),(2010.2,[3.2]),(2013.1,[-2.85]),
(2014.17,[5.45,4.0,3.45]),(2014.47,[5.1,4.3,3.55,1.6]),(2014.78,[5.15,5.0,3.75,1.6]),(2014.97,[3.25,3.9]),(2015.58,[4.6,3.2]),(2015.77,[5.0,4.3,3.55,2.55]),(2015.93,[5.0,4.3,3.2,2.4]),(2016.22,[3.3,2.95,2.55]),(2016.45,[5.2,5.1,4.55,3.65,2.95,2.3]),
(2016.58,[5.0,4.35,3.25]),(2017.02,[5.3,3.3,2.85,2.35]),(2017.27,[3.2,2.0]),(2017.68,[5.2,2.0]),(2018.02,[3.35,2.35]),(2018.42,[4.25,3.7]),
]

# monthly medians
median_years = [1968.63,1970.3,1978.71,1978.87,1978.96,1979.12,1979.97,1980.02,1980.14,1980.23,1980.35,1980.46,1980.53,1980.65,1980.73,1980.81,1980.89,1980.96,1981.06,1981.14,1981.3,1981.38,1981.55,1981.71,1981.79,1981.89,1982.3,1982.45,1982.73,1982.79,1982.87,1983.04,1983.14,1983.2,1983.7,1983.79,1983.63,1983.46,1986.69,
1992.39,1992.63,1992.52,1992.72,1992.85,1992.88,1993.04,1993.19,1993.34,1993.45,1993.53,1993.6,1993.7,1993.78,1993.86,1993.94,1994.03,1994.11,1994.19,1994.6,1995.44,1995.62,1995.52,1995.68,1995.76,1996.03,1996.34,1996.94,1997.01,1997.96,1998.01,1998.14,1998.26,1998.52,1998.68,1999.52,
2006.84,2006.59,2006.67,2006.53,2006.94,2007.35,2007.69,2007.76,2008.02,2008.28,2008.36,2008.43,2008.51,2007.86,2008.18,2008.61,2008.86,2009.02,2009.1,2008.94,2009.18,2009.26,2009.35,2009.43,2009.84,2009.94,2010.27,2010.33,2010.43,2010.51,2010.59,2010.76,2010.69,2011.1,2010.86,2010.94,2011.04,2011.18,2011.26,2011.35,2011.43,2011.69,2011.86,
2012.36,2012.45,2012.54,2012.67,2012.79,2012.85,2012.95,2013.02,2013.2,2013.69,2013.69,2013.76,2013.87,2013.94,2014.12,2014.18,2014.28,2014.41,2014.51,2014.59,2014.69,2014.76,2014.85,2015.0,2015.77,2015.92,2016.02,2016.1,2016.18,2016.26,2016.35,2016.44,2016.51,2016.61,2016.67,2016.76,2017.02,2017.1,2017.27,2017.35,2017.43,2017.51,2017.59,2017.69,2017.94,2018.02,2018.02,2018.12,2018.18,2018.27,2018.36,2018.59,2019.63,2019.69,2020.53]
median_resid = [-.58,-1.21,-1.26,-.16,-.44,-1.54,0,-.12,-.35,-.08,-.06,0,-.23,.21,.2,-.58,-.28,.13,-.09,-.83,.14,-.22,-.73,.14,-.38,-.04,-.3,-.01,.3,-.06,-.28,.03,.18,-.51,-.72,-1.05,-2.44,-2.91,-.2,
.07,.16,-.2,-.07,-.04,-.67,-.16,0,-.14,-.49,-.87,.08,-.32,.01,.28,-.2,0,-.4,-.74,-.25,.14,.02,-.11,-.42,-.67,.2,-.25,-.06,-.3,-.12,.06,.05,.05,.13,-.13,-.29,
1.14,.57,.09,-.81,-1.07,.41,.56,.47,.86,.54,.05,.13,.17,-.5,-.65,-1.14,-1.14,0,.29,-.49,-.51,-.93,-.18,.09,-1.0,-.51,.08,-.18,-.23,.7,.79,-.27,-1.69,-1.57,.89,.3,.17,.27,.83,.4,-1.07,-.08,0,
-.9,-.23,-.16,-.04,-.55,-.46,.18,-1.14,-.44,.01,-.59,-.74,.73,.14,.13,-.3,-.11,1.87,-.5,.27,.05,.42,.3,.13,4.05,1.71,0,.18,-.16,.88,-.14,3.23,1.75,2.11,.34,.09,-.34,-.56,.87,.32,-.48,.07,-.2,.52,.35,.94,-.04,.81,-.28,-.22,.59,.38,-.21,-.28,-.3]

distance_ticks = [0, 30, 60, 90, 120, 150, 180]
year_ticks = list(range(1965, 2030, 5))
year_labels = [str(y) for y in range(1965, 2025, 5)]
resid_ticks = list(range(-10, 12, 2))


def from_rows(rows, dist):
    return pd.DataFrame([(yr, r, dist) for yr, vals in rows for r in vals], columns=['year', 'resid', 'dist'])


def from_pairs(pairs, dist):
    return pd.DataFrame([(yr, r, dist) for yr, r in pairs], columns=['year', 'resid', 'dist'])


df = pd.concat([from_rows(early_rows, 6), from_rows(nineties_rows, 6), from_rows(late_a_rows, 6), from_rows(late_b_rows, 6),
                from_rows(brown_rows, 58), from_rows(olive_rows, 80), from_pairs(top_dark, 6), from_pairs(top_red, 28),
                from_pairs(top_brown, 58), from_pairs(top_olive, 80)])

sns.set_theme(style='white')
plt.rcParams['font.family'] = ['Liberation Sans', 'DejaVu Sans']
plt.rcParams['text.color'] = 'k'
cmap = LinearSegmentedColormap.from_list('dist', bar_colors)

fig = plt.figure(figsize=(16.06, 11.62), dpi=100)
ax = fig.add_axes([135.5/1606, 1-1059/1162, (1373.5-135.5)/1606, (1059-114.7)/1162])
sns.scatterplot(data=df, x='year', y='resid', hue='dist', hue_norm=(0, 180), palette=cmap, s=4.5, linewidth=0,
                legend=False, ax=ax, zorder=3)
ax.axhline(0, color='#808080', lw=1.5, zorder=4)
sns.scatterplot(x=median_years, y=median_resid, color='#3fdcf5', s=26, linewidth=0, legend=False, ax=ax, zorder=5)

ax.set_xlim(1964, 2025)
ax.set_ylim(-10, 10)
ax.set_xticks(year_ticks, [''] * len(year_ticks))
ax.set_xticks([y + 0.5 for y in range(1965, 2025, 5)], year_labels, minor=True)
ax.set_yticks(resid_ticks, [str(v).replace('-', '\u2212') for v in resid_ticks])
ax.set_yticks(range(-9, 10, 2), minor=True)
ax.tick_params(axis='x', which='major', length=8.6, width=1.1, top=True, bottom=True, color='k')
ax.tick_params(axis='x', which='minor', length=0, labelsize=24.5, pad=16, colors='k')
ax.tick_params(axis='y', which='major', length=8.6, width=1.1, left=True, right=True, labelsize=24.5, pad=8.5, color='k', labelcolor='k')
ax.tick_params(axis='y', which='minor', length=4.3, width=1.1, left=True, right=True, color='k')
for s in ax.spines.values():
    s.set_visible(True)
    s.set_linewidth(1.6)
    s.set_color('k')
ax.set_xlabel('Year', fontsize=24.5, color='k')
ax.xaxis.set_label_coords(0.5, -0.08)
ax.set_ylabel('Residual and monthly median residual (seconds)', fontsize=24.5, color='k', va='center')
ax.yaxis.set_label_coords(-0.0977, 0.5)
fig.text(755/1606, 1-21/1162, 'Phase residuals (S Sn Sg Sb)', fontsize=29.7, color='k', ha='center', va='center')

cax = fig.add_axes([1433.5/1606, 1-822.7/1162, 45.5/1606, (822.7-350.7)/1162])
cb = fig.colorbar(ScalarMappable(norm=Normalize(0, 180), cmap=cmap), cax=cax, ticks=distance_ticks)
cb.outline.set_linewidth(1.6)
cb.outline.set_edgecolor('k')
cax.tick_params(axis='y', length=8.6, width=1.1, labelsize=24.5, color='k', labelcolor='k', pad=47)
for t in cax.get_yticklabels():
    t.set_ha('right')
cb.set_label('Distance (degrees)', fontsize=24.5, color='k', va='center')
cax.yaxis.set_label_coords(3.35, 0.5)

fig.savefig('out.png', dpi=100)
